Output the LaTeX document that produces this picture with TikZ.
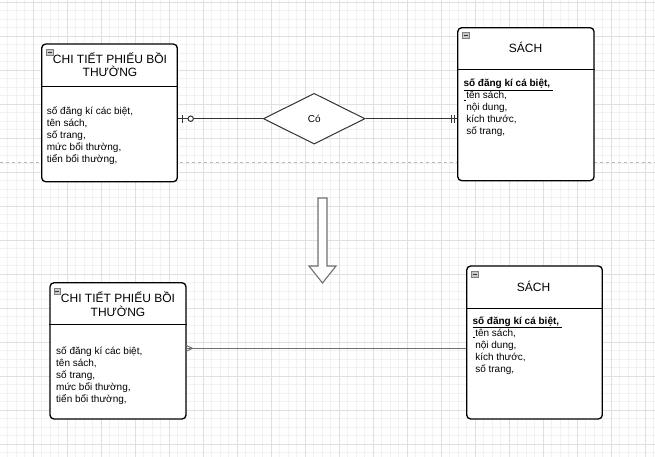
\documentclass[tikz,border=0pt]{standalone}
\usepackage{fontspec}
\setmainfont{Liberation Sans}
\usetikzlibrary{shapes.geometric}
\definecolor{gminor}{HTML}{F2F2F2}
\definecolor{gmajor}{HTML}{E0E0E0}
\definecolor{pageline}{HTML}{B8B8B8}
\definecolor{linedark}{HTML}{333333}
\definecolor{linegrey}{HTML}{707070}
\definecolor{icongrey}{HTML}{C8C8C8}
\begin{document}
\begin{tikzpicture}[x=1pt,y=-1pt,
  ent/.style={rectangle, draw=black, line width=1.3pt, rounded corners=4pt, fill=white, inner sep=0pt},
  divline/.style={draw=black, line width=1.3pt},
  ttl/.style={font=\fontsize{12}{14}\selectfont, inner sep=0pt, anchor=base},
  attr/.style={font=\fontsize{10}{12}\selectfont, inner sep=0pt, anchor=base west},
  icon/.style={rectangle, draw=gray, fill=icongrey, line width=0.6pt, minimum width=6.5pt, minimum height=6pt, inner sep=0pt,
    path picture={\draw[linedark, line width=0.9pt] ([xshift=1.3pt]path picture bounding box.west) -- ([xshift=-1.3pt]path picture bounding box.east);}},
  conn/.style={draw=linedark, line width=1pt},
  conn2/.style={draw=linegrey, line width=1.2pt},
  rel/.style={diamond, draw=linedark, line width=1pt, fill=white, inner sep=0pt, font=\fontsize{10}{12}\selectfont},
  blockarrow/.style={draw=linegrey, line width=1.1pt, fill=white, line join=miter}
]
\useasboundingbox (0,0) rectangle (655,457);
\fill[white] (0,0) rectangle (655,457);
% grid
\foreach \i in {0,...,77} {\draw[gminor, line width=0.8pt] ({-1+8.5*\i},0) -- ({-1+8.5*\i},457);}
\foreach \i in {0,...,53} {\draw[gminor, line width=0.8pt] (0,{2+8.5*\i}) -- (655,{2+8.5*\i});}
\foreach \i in {0,...,19} {\draw[gmajor, line width=0.8pt] ({-1+34*\i},0) -- ({-1+34*\i},457);}
\foreach \i in {0,...,13} {\draw[gmajor, line width=0.8pt] (0,{2+34*\i}) -- (655,{2+34*\i});}
% page break line
\draw[pageline, line width=0.9pt, dash pattern=on 3pt off 3pt] (0,162.3) -- (655,162.3);

% ===== top diagram =====
\node[ent, minimum width=135.6pt, minimum height=137.7pt] (e1) at (109.5,112.9) {};
\draw[divline] (e1.west |- 0,86.7) -- (e1.east |- 0,86.7);
\node[icon] (ic1) at (50,52) {};
\node[ttl] (t1a) at (110,63.3) {CHI TIẾT PHIẾU BỒI};
\node[ttl] (t1b) at (110,76.6) {THƯỜNG};
\foreach \t [count=\i] in {{số đăng kí các biệt,},{tên sách,},{số trang,},{mức bổi thường,},{tiển bổi thường,}}
  {\node[attr] (a1\i) at (46.7,{114.5+12*(\i-1)}) {\t};}

\node[ent, minimum width=136.3pt, minimum height=153pt] (s1) at (525.9,104.2) {};
\draw[divline] (s1.west |- 0,69.3) -- (s1.east |- 0,69.3);
\node[icon] (ic2) at (466,35.5) {};
\node[ttl] (t2) at (525.5,52.6) {SÁCH};
\node[attr] (b11) at (463.3,86.5) {\underline{\textbf{số đăng kí cá biệt,}\ }};
\node[attr] (b12) at (463.3,98.5) {\underline{\ }tên sách,};
\node[attr] (b13) at (463.3,110.5) {\ nội dung,};
\node[attr] (b14) at (463.3,122.5) {\ kích thước,};
\node[attr] (b15) at (463.3,134.5) {\ số trang,};

\node[rel, minimum width=101.7pt, minimum height=50.7pt] (r1) at (314.2,118.7) {Có};
\draw[conn] (e1.east |- r1.west) -- (r1.west);
\draw[conn] (r1.east) -- (s1.west |- r1.east);
% zero-or-one near e1
\draw[conn] (182.7,114.7) -- (182.7,122.7);
\draw[conn, fill=white] (190.7,118.7) circle (2.7pt);
% exactly one near s1
\draw[conn] (451.6,114.7) -- (451.6,122.7);
\draw[conn] (454.6,114.7) -- (454.6,122.7);

% ===== block arrow =====
\draw[blockarrow] (318,198) -- (327,198) -- (327,266) -- (336,266) -- (322.5,283) -- (309,266) -- (318,266) -- cycle;

% ===== bottom diagram =====
\node[ent, minimum width=136pt, minimum height=136.3pt] (e2) at (118,350.9) {};
\draw[divline] (e2.west |- 0,324.3) -- (e2.east |- 0,324.3);
\node[icon] (ic3) at (57.3,291.5) {};
\node[ttl] (t3a) at (118,302.6) {CHI TIẾT PHIẾU BỒI};
\node[ttl] (t3b) at (118,316) {THƯỜNG};
\foreach \t [count=\i] in {{số đăng kí các biệt,},{tên sách,},{số trang,},{mức bổi thường,},{tiển bổi thường,}}
  {\node[attr] (a2\i) at (56,{354+12*(\i-1)}) {\t};}

\node[ent, minimum width=135.6pt, minimum height=153pt] (s2) at (534.5,342.5) {};
\draw[divline] (s2.west |- 0,308.3) -- (s2.east |- 0,308.3);
\node[icon] (ic4) at (475,274.5) {};
\node[ttl] (t4) at (533.5,291) {SÁCH};
\node[attr] (b21) at (472.3,324) {\underline{\textbf{số đăng kí cá biệt,}\ }};
\node[attr] (b22) at (472.3,336) {\underline{\ }tên sách,};
\node[attr] (b23) at (472.3,348) {\ nội dung,};
\node[attr] (b24) at (472.3,360) {\ kích thước,};
\node[attr] (b25) at (472.3,372) {\ số trang,};

\coordinate (cy) at (0,348.3);
\draw[conn2] (e2.east |- cy) -- (s2.west |- cy);
% crow's foot near e2
\draw[conn2, line width=1pt] (186,345.3) -- (192.3,348.3) -- (186,351.5);
\end{tikzpicture}
\end{document}
